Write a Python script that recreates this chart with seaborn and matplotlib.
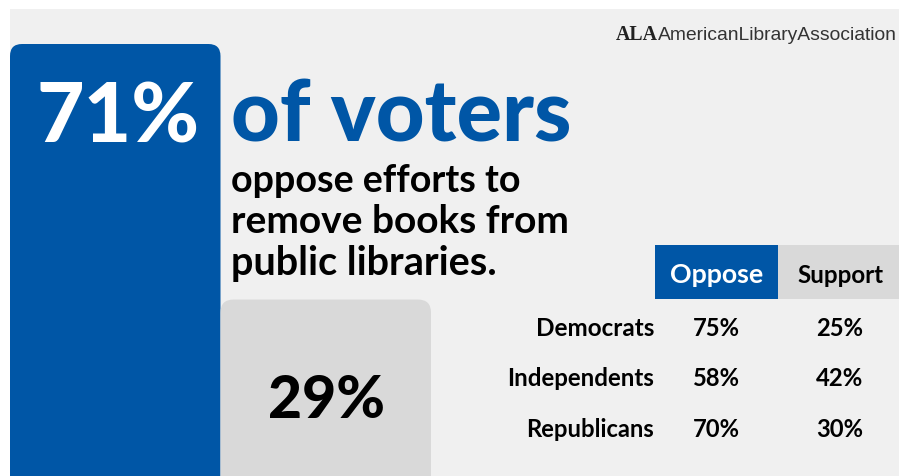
import matplotlib
matplotlib.use("Agg")
import matplotlib.pyplot as plt
import matplotlib.transforms as mtransforms
from matplotlib.patches import FancyBboxPatch, Rectangle
import seaborn as sns
import pandas as pd

# ---------------- data ----------------
overall_labels = ["Oppose", "Support"]
overall_values = [71, 29]
headline_pct = "71%"
headline_word = "of voters"
subhead_lines = ["oppose efforts to", "remove books from", "public libraries."]
groups = ["Democrats", "Independents", "Republicans"]
oppose_pct = [75, 58, 70]
support_pct = [25, 42, 30]
table_headers = ["Oppose", "Support"]
logo_mark = "ALA"
logo_name = "AmericanLibraryAssociation"

# ---------------- style ----------------
W, H = 899, 477
BLUE = "#0056a6"
GRAY = "#d9d9d9"
BG = "#f0f0f0"
FONT = ["Lato", "DejaVu Sans"]

sns.set_theme(style="white")
plt.rcParams['font.family'] = FONT

fig = plt.figure(figsize=(W / 100, H / 100), dpi=100, facecolor="white")
# pixel coordinates measured from the top-left corner
px = mtransforms.Affine2D().scale(1 / W, -1 / H).translate(0, 1) + fig.transFigure

fig.patches.append(Rectangle((10, 10), W - 10, H - 10, transform=px,
                             facecolor=BG, edgecolor="none", zorder=-10))

# ---------------- bars ----------------
ax = fig.add_axes([10 / W, 0, (W - 10) / W, (H - 10) / H])
ax.set_zorder(0)
ax.patch.set_alpha(0)
df = pd.DataFrame({"stance": overall_labels, "pct": overall_values})
sns.barplot(data=df, x="stance", y="pct", hue="stance", palette=[BLUE, GRAY],
            saturation=1, width=1, legend=False, ax=ax)
unit_px = 210.5
ax.set_xlim(-0.5, -0.5 + (W - 10) / unit_px)
ax.set_ylim(0, 71 * (H - 10) / 432)
ax.axis("off")

# round the top corners of the bars
fig.canvas.draw()
bb = ax.get_window_extent()
x_per_px = (ax.get_xlim()[1] - ax.get_xlim()[0]) / bb.width
y_per_px = (ax.get_ylim()[1] - ax.get_ylim()[0]) / bb.height
aspect = y_per_px / x_per_px
radii = [12, 13]
for patch, rad in zip(list(ax.patches), radii):
    x0, y0 = patch.get_x(), patch.get_y()
    w, h = patch.get_width(), patch.get_height()
    fc = patch.get_facecolor()
    patch.set_visible(False)
    ext = 20 * y_per_px
    fb = FancyBboxPatch((x0, y0 - ext), w, h + ext,
                        boxstyle=f"round,pad=0,rounding_size={rad * x_per_px}",
                        mutation_aspect=aspect, facecolor=fc, edgecolor="none",
                        clip_on=True, zorder=2)
    ax.add_patch(fb)

renderer = fig.canvas.get_renderer()


def fit(t, target_w):
    """scale a text's font size so that its width matches target_w pixels"""
    for _ in range(3):
        w = t.get_window_extent(renderer).width
        t.set_fontsize(t.get_fontsize() * target_w / w)
    return t


def txt(x, y, s, width, **kw):
    kw.setdefault("va", "baseline")
    kw.setdefault("weight", "black")
    t = fig.text(x, y, s, transform=px, fontsize=20, zorder=5, **kw)
    return fit(t, width)


# headline
txt(37, 143, headline_pct, 163, color="white")
txt(231, 142, headline_word, 341, color=BLUE)
for line, yb, wd in zip(subhead_lines, [192, 233, 275], [289, 338, 266]):
    txt(231, yb, line, wd, color="black", weight="bold")

# 29% label on the grey bar
txt(326.5, 418, f"{overall_values[1]}%", 117, color="black", ha="center")

# logo
txt(616, 40, logo_mark, 42, color="#222222", family="Liberation Serif", weight="bold")
txt(658, 40, logo_name, 238, color="#333333", family="Liberation Sans", weight="normal")

# ---------------- table ----------------
fig.patches.append(Rectangle((655, 246), 123, 54, transform=px,
                             facecolor=BLUE, edgecolor="none", zorder=1))
fig.patches.append(Rectangle((778, 246), W - 778, 54, transform=px,
                             facecolor=GRAY, edgecolor="none", zorder=1))
txt(716.5, 283, table_headers[0], 93, color="white", ha="center", weight="bold")
txt(840, 283, table_headers[1], 86, color="black", ha="center", weight="bold")

label_w = [118, 146, 128]
for i, (g, o, s) in enumerate(zip(groups, oppose_pct, support_pct)):
    yb = 336 + i * 50.5
    txt(654, yb, g, label_w[i], color="black", ha="right", weight="bold")
    txt(716.5, yb, f"{o}%", 47, color="black", ha="center", weight="bold")
    txt(840, yb, f"{s}%", 47, color="black", ha="center", weight="bold")

fig.savefig("out.png", dpi=100, facecolor="white")
